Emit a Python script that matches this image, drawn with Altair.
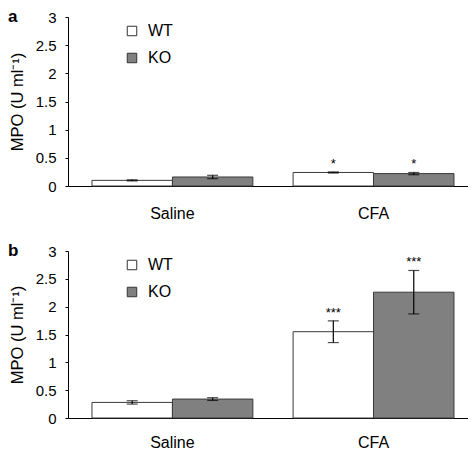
import altair as alt
import pandas as pd

groups = ["Saline", "Saline", "CFA", "CFA"]
genotypes = ["WT", "KO", "WT", "KO"]

a_mean = [0.10, 0.16, 0.24, 0.22]
a_err = [0.01, 0.03, 0.01, 0.02]
a_stars = ["", "", "*", "*"]

b_mean = [0.28, 0.34, 1.55, 2.26]
b_err = [0.03, 0.025, 0.195, 0.39]
b_stars = ["", "", "***", "***"]

y_ticks = [0, 0.5, 1, 1.5, 2, 2.5, 3]
FONT = "Liberation Sans"


def panel(mean, err, stars, letter, h, xpad):
    df = pd.DataFrame({"group": groups, "genotype": genotypes, "mean": mean,
                       "err": err, "stars": stars})
    base = alt.Chart(df).transform_calculate(
        lo="datum.mean - datum.err", hi="datum.mean + datum.err"
    )
    x = alt.X("group:N", sort=["Saline", "CFA"],
              scale=alt.Scale(paddingInner=0.2, paddingOuter=0.1094, align=0.545),
              axis=alt.Axis(title=None, labelAngle=0, ticks=False, labelPadding=xpad,
                            labelFontSize=16, labelFont=FONT, labelColor="#000",
                            domainColor="#000"))
    xo = alt.XOffset("genotype:N", sort=["WT", "KO"],
                     scale=alt.Scale(paddingInner=0, paddingOuter=0))
    yaxis = alt.Axis(title="MPO (U ml⁻¹)", values=y_ticks, format="~g",
                     labelOverlap=False, tickCount=7,
                     grid=False, tickSize=3, labelFontSize=15, labelFont=FONT,
                     titleFont=FONT, titleFontSize=16.5, titleFontWeight="normal",
                     titlePadding=10, labelPadding=9, labelColor="#000",
                     titleColor="#000", domainColor="#000", tickColor="#000")
    ysc = alt.Scale(domain=[0, 3])

    def Y(f):
        return alt.Y(f, scale=ysc, axis=yaxis, title="MPO (U ml⁻¹)")

    bars = base.mark_bar(stroke="#3a3a3a", strokeWidth=1).encode(
        x=x, xOffset=xo, y=Y("mean:Q"),
        color=alt.Color("genotype:N", sort=["WT", "KO"],
                        scale=alt.Scale(domain=["WT", "KO"], range=["#ffffff", "#808080"]),
                        legend=alt.Legend(title=None, orient="none", legendX=56, legendY=6,
                                          symbolType="square", symbolSize=90,
                                          symbolStrokeColor="#333", symbolStrokeWidth=1,
                                          labelFontSize=16, labelFont=FONT, labelColor="#000",
                                          rowPadding=11, labelOffset=8)),
    )
    rule = base.mark_rule(color="#000", strokeWidth=1.2).encode(
        x=x, xOffset=xo, y=Y("lo:Q"), y2="hi:Q")
    cap_lo = base.mark_tick(color="#000", thickness=1.2, size=11).encode(
        x=x, xOffset=xo, y=Y("lo:Q"))
    cap_hi = base.mark_tick(color="#000", thickness=1.2, size=11).encode(
        x=x, xOffset=xo, y=Y("hi:Q"))
    star = base.mark_text(fontSize=13, font=FONT, dy=-1, baseline="bottom", color="#000").encode(
        x=x, xOffset=xo, y=Y("hi:Q"), text="stars:N")
    lab = alt.Chart(pd.DataFrame({"t": [letter]})).mark_text(
        fontSize=17, font=FONT, fontWeight="bold", align="left", baseline="middle", color="#000"
    ).encode(text="t:N", x=alt.value(-60), y=alt.value(0))
    return alt.layer(bars, rule, cap_lo, cap_hi, star, lab).properties(width=406, height=h)


pa = panel(a_mean, a_err, a_stars, "a", 169, 19)
pb = panel(b_mean, b_err, b_stars, "b", 167, 16)

chart = alt.vconcat(pa, pb, spacing=21).resolve_scale(color="independent").resolve_legend(
    color="independent"
).configure_view(stroke=None).properties(padding={"top": 0, "left": 0, "right": -6, "bottom": 0})

chart.save("out.html", embed_options={"renderer": "svg", "actions": False})
